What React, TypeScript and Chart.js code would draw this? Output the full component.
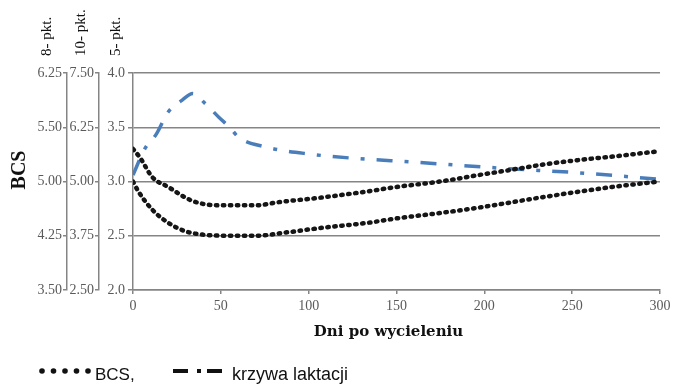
import React, { useEffect, useRef } from 'react';
import { Chart, registerables } from 'chart.js';

Chart.register(...registerables);

// ---- data (days after calving, BCS on 5-point scale) ----
const bcsUpperDays = [0, 4, 11, 20, 34, 50, 60, 70, 83, 106, 134, 150, 175, 197, 220, 235, 255, 273, 300];
const bcsUpperValues = [3.3, 3.22, 3.04, 2.95, 2.82, 2.78, 2.78, 2.78, 2.81, 2.85, 2.91, 2.95, 3.0, 3.06, 3.12, 3.16, 3.2, 3.23, 3.28];

const bcsLowerDays = [0, 3, 11, 20, 30, 40, 55, 70, 87, 106, 134, 150, 175, 197, 235, 273, 300];
const bcsLowerValues = [3.0, 2.91, 2.74, 2.62, 2.54, 2.51, 2.5, 2.5, 2.53, 2.57, 2.62, 2.66, 2.71, 2.76, 2.86, 2.95, 3.0];

const lactationDays = [0, 7, 13, 20, 28, 34, 41, 49, 55, 60, 75, 102, 129, 159, 212, 254, 300];
const lactationValues = [3.06, 3.31, 3.43, 3.64, 3.75, 3.81, 3.72, 3.59, 3.5, 3.41, 3.32, 3.25, 3.21, 3.18, 3.12, 3.08, 3.02];

// ---- tick labels ----
const scale5Labels = ['2.0', '2.5', '3.0', '3.5', '4.0'];
const scale10Labels = ['2.50', '3.75', '5.00', '6.25', '7.50'];
const scale8Labels = ['3.50', '4.25', '5.00', '5.50', '6.25'];
const xTickValues = [0, 50, 100, 150, 200, 250, 300];

const xTitle = 'Dni po wycieleniu';
const yTitle = 'BCS';
const title8 = '8- pkt.';
const title10 = '10- pkt.';
const title5 = '5- pkt.';
const legendBCS = 'BCS,';
const legendLact = 'krzywa laktacji';

const toPoints = (xs: number[], ys: number[]) => xs.map((x, i) => ({ x, y: ys[i] }));
const labelAt = (labels: string[]) => (v: any) => {
  const i = Math.round((Number(v) - 2) / 0.5);
  return labels[i] ?? '';
};

const AXIS_GRAY = '#858585';
const TICK_GRAY = '#5a5a5a';
const SERIF = '"Liberation Serif", "Times New Roman", serif';
const SANS = '"Liberation Sans", Arial, sans-serif';

const extras = {
  id: 'extras',
  afterDraw(chart: any) {
    const ctx = chart.ctx as CanvasRenderingContext2D;
    ctx.save();
    ctx.fillStyle = '#111';
    const rot = (text: string, x: number, yEnd: number, font: string, align: CanvasTextAlign) => {
      ctx.save();
      ctx.translate(x, yEnd);
      ctx.rotate(-Math.PI / 2);
      ctx.font = font;
      ctx.textAlign = align;
      ctx.textBaseline = 'middle';
      ctx.fillText(text, 0, 0);
      ctx.restore();
    };
    rot(title8, 47, 56, `15px ${SERIF}`, 'left');
    rot(title10, 81, 56, `15px ${SERIF}`, 'left');
    rot(title5, 116, 56, `15px ${SERIF}`, 'left');
    rot(yTitle, 20, 170, `bold 20px ${SERIF}`, 'center');

    // x axis title
    const area = chart.chartArea;
    ctx.font = `bold 15px "DejaVu Serif", serif`;
    ctx.textAlign = 'center';
    ctx.textBaseline = 'alphabetic';
    ctx.fillText(xTitle, (area.left + area.right) / 2 - 8, 336);

    // legend
    const ly = 371;
    ctx.fillStyle = '#111';
    for (let i = 0; i < 5; i++) {
      ctx.beginPath();
      ctx.arc(42 + i * 11.5, ly, 2.8, 0, Math.PI * 2);
      ctx.fill();
    }
    ctx.font = `17px ${SANS}`;
    ctx.textAlign = 'left';
    ctx.fillText(legendBCS, 95, 380);
    ctx.fillRect(173, ly - 2, 15, 4);
    ctx.fillRect(197, ly - 2, 4, 4);
    ctx.fillRect(207, ly - 2, 15, 4);
    ctx.font = `18px ${SANS}`;
    ctx.fillText(legendLact, 232, 380);
    ctx.restore();
  },
};

export default function App() {
  const ref = useRef<HTMLCanvasElement | null>(null);
  useEffect(() => {
    document.body.style.margin = '0';
    if (!ref.current) return;
    const tickFont = { family: SERIF, size: 14 };
    const dotted = {
      borderColor: '#151515',
      borderWidth: 4.5,
      borderDash: [1.4, 5.6],
      borderCapStyle: 'round',
      pointRadius: 0,
      cubicInterpolationMode: 'monotone',
      yAxisID: 'y',
    };
    const chart = new Chart(ref.current, {
      type: 'line',
      data: {
        datasets: [
          { ...dotted, label: 'BCS', data: toPoints(bcsUpperDays, bcsUpperValues) },
          { ...dotted, label: 'BCS 2', data: toPoints(bcsLowerDays, bcsLowerValues) },
          {
            label: 'krzywa laktacji',
            data: toPoints(lactationDays, lactationValues),
            borderColor: '#4a7ebb',
            borderWidth: 3.5,
            borderDash: [16, 12, 4, 12],
            pointRadius: 0,
            cubicInterpolationMode: 'monotone',
            yAxisID: 'y',
          },
        ],
      },
      options: {
        responsive: false,
        maintainAspectRatio: false,
        animation: false,
        events: [],
        layout: { padding: { top: 73, right: 24, bottom: 0, left: 0 } },
        plugins: { legend: { display: false }, tooltip: { enabled: false } },
        scales: {
          x: {
            type: 'linear',
            min: 0,
            max: 300,
            afterBuildTicks: (s: any) => { s.ticks = xTickValues.map((v) => ({ value: v })); },
            afterFit: (s: any) => { s.height = 96; },
            ticks: { color: TICK_GRAY, font: tickFont, padding: 4, maxRotation: 0 },
            grid: { display: true, drawOnChartArea: false, tickLength: 4, color: AXIS_GRAY, lineWidth: 1.5 },
            border: { display: true, color: AXIS_GRAY, width: 1.5 },
          },
          y: {
            type: 'linear',
            position: 'left',
            weight: 0,
            min: 2,
            max: 4,
            ticks: { stepSize: 0.5, color: TICK_GRAY, font: tickFont, padding: 3, callback: labelAt(scale5Labels) },
            afterFit: (s: any) => { s.width = 34; },
            grid: { display: true, drawOnChartArea: true, tickLength: 5, color: AXIS_GRAY, lineWidth: 1.5 },
            border: { display: true, color: AXIS_GRAY, width: 1.5 },
          },
          y10: {
            type: 'linear',
            position: 'left',
            weight: 1,
            min: 2,
            max: 4,
            ticks: { stepSize: 0.5, color: TICK_GRAY, font: tickFont, padding: 1, callback: labelAt(scale10Labels) },
            afterFit: (s: any) => { s.width = 32; },
            grid: { display: true, drawOnChartArea: false, tickLength: 4, color: AXIS_GRAY, lineWidth: 1.5 },
            border: { display: true, color: AXIS_GRAY, width: 1.5 },
          },
          y8: {
            type: 'linear',
            position: 'left',
            weight: 2,
            min: 2,
            max: 4,
            ticks: { stepSize: 0.5, color: TICK_GRAY, font: tickFont, padding: 1, callback: labelAt(scale8Labels) },
            afterFit: (s: any) => { s.width = 67; },
            grid: { display: true, drawOnChartArea: false, tickLength: 4, color: AXIS_GRAY, lineWidth: 1.5 },
            border: { display: true, color: AXIS_GRAY, width: 1.5 },
          },
        },
      } as any,
      plugins: [extras],
    });
    return () => chart.destroy();
  }, []);
  return (
    <div style={{ width: 684, height: 386, background: '#fff' }}>
      <canvas ref={ref} width={684} height={386} />
    </div>
  );
}
